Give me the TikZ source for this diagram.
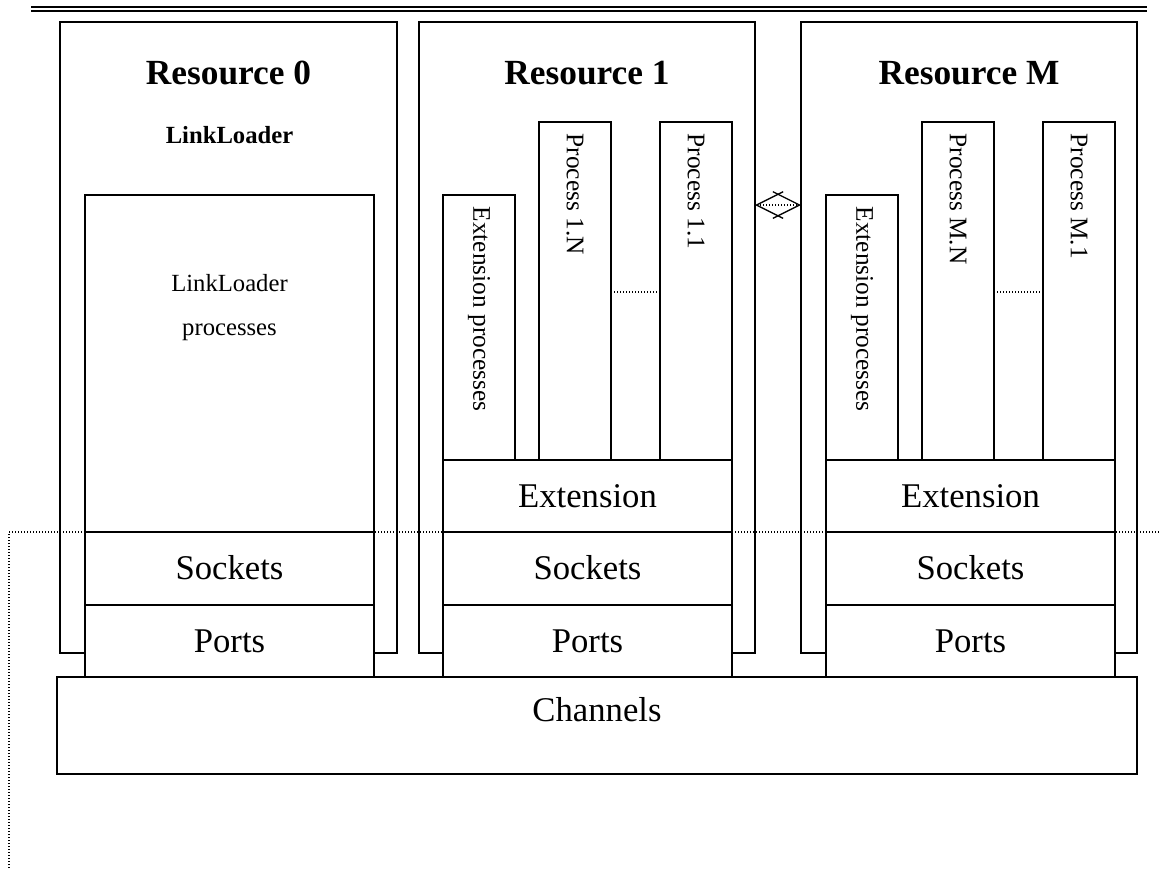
\documentclass[tikz,border=0pt]{standalone}
\usepackage{fontspec}
\setmainfont{Liberation Serif}
\usetikzlibrary{arrows.meta}

\begin{document}
\begin{tikzpicture}[x=0.75pt,y=0.75pt,yscale=-1,xscale=1,
	every path/.style={line width=1pt},
	dotline/.style={dash pattern={on 0.75pt off 1.5pt}},
	titlelbl/.style={inner sep=0pt,font=\fontsize{26.5}{30}\selectfont\bfseries},
	boxlbl/.style={inner sep=0pt,font=\fontsize{26}{30}\selectfont},
	smalllbl/.style={inner sep=0pt,font=\fontsize{18.5}{22}\selectfont},
	proclbl/.style={inner sep=0pt,anchor=west,rotate=-90,font=\fontsize{19}{22}\selectfont}]
	\useasboundingbox (0,0) rectangle (1160,868);
	% rule at the top
	\draw [line width=1.5pt] (31,6.5) -- (1147,6.5);
	\draw [line width=1.5pt] (31,10.5) -- (1147,10.5);
	% dotted level line
	\draw [dotline] (9,868) -- (9,532) -- (1160,532);

	% resources
	\draw (60,22) rectangle (397,653);
	\draw (419,22) rectangle (755,653);
	\draw (801,22) rectangle (1137,653);

	% resource 0
	\draw [fill=white] (85,195) rectangle (374,532);
	\draw [fill=white] (85,532) rectangle (374,605);
	\draw [fill=white] (85,605) rectangle (374,677);
	% resource 1
	\draw [fill=white] (443,195) rectangle (515,460);
	\draw [fill=white] (539,122) rectangle (611,460);
	\draw [fill=white] (660,122) rectangle (732,460);
	\draw [dotline] (611,292) -- (660,292);
	\draw [fill=white] (443,460) rectangle (732,532);
	\draw [fill=white] (443,532) rectangle (732,605);
	\draw [fill=white] (443,605) rectangle (732,677);
	% resource M
	\draw [fill=white] (826,195) rectangle (898,460);
	\draw [fill=white] (922,122) rectangle (994,460);
	\draw [fill=white] (1043,122) rectangle (1115,460);
	\draw [dotline] (994,292) -- (1043,292);
	\draw [fill=white] (826,460) rectangle (1115,532);
	\draw [fill=white] (826,532) rectangle (1115,605);
	\draw [fill=white] (826,605) rectangle (1115,677);

	% channels
	\draw [fill=white] (57,677) rectangle (1137,774);

	% link between resource 1 and resource M
	\coordinate (res1e) at (755,205);
	\coordinate (resMw) at (801,205);
	\draw [dotline,{Straight Barb[length=20pt,width=20pt]}-{Straight Barb[length=20pt,width=20pt]}] (res1e) -- (resMw);

	\node [titlelbl] (t0) at (228.5,73) {Resource 0};
	\node [titlelbl] (t1) at (587,73) {Resource 1};
	\node [titlelbl] (tM) at (969,73) {Resource M};
	\node [smalllbl,font=\fontsize{18.5}{22}\selectfont\bfseries] (ll) at (229.5,135) {LinkLoader};
	\node [smalllbl] (llp1) at (229.5,283) {LinkLoader};
	\node [smalllbl] (llp2) at (229.5,332) {processes};
	\node [boxlbl] (sock0) at (229.5,568) {Sockets};
	\node [boxlbl] (port0) at (229.5,641) {Ports};

	\node [proclbl] (ext1) at (479,206) {Extension processes};
	\node [proclbl] (p1n) at (575,133) {Process 1.N};
	\node [proclbl] (p11) at (696,133) {Process 1.1};
	\node [boxlbl] (extb1) at (587.5,496) {Extension};
	\node [boxlbl] (sock1) at (587.5,568) {Sockets};
	\node [boxlbl] (port1) at (587.5,641) {Ports};

	\node [proclbl] (extM) at (862,206) {Extension processes};
	\node [proclbl] (pMn) at (958,133) {Process M.N};
	\node [proclbl] (pM1) at (1079,133) {Process M.1};
	\node [boxlbl] (extbM) at (970.5,496) {Extension};
	\node [boxlbl] (sockM) at (970.5,568) {Sockets};
	\node [boxlbl] (portM) at (970.5,641) {Ports};

	\node [boxlbl] (chan) at (597,710) {Channels};
\end{tikzpicture}
\end{document}
